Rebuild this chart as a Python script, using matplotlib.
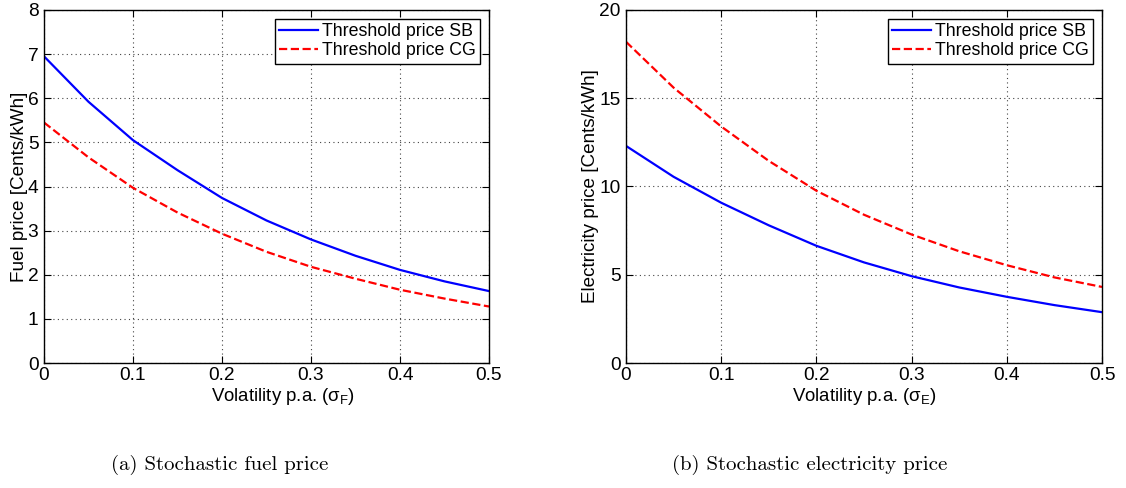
import matplotlib
matplotlib.use("Agg")
import matplotlib.pyplot as plt

plt.rcParams['font.family'] = ['Liberation Sans', 'DejaVu Sans']
plt.rcParams['mathtext.fontset'] = 'custom'
plt.rcParams['mathtext.rm'] = 'Liberation Sans'
plt.rcParams['mathtext.it'] = 'Liberation Sans'

# volatility grid
sigma = [0.0, 0.05, 0.1, 0.15, 0.2, 0.25, 0.3, 0.35, 0.4, 0.45, 0.5]

# (a) stochastic fuel price
fuel_sb = [6.95, 5.92, 5.05, 4.37, 3.74, 3.23, 2.80, 2.43, 2.11, 1.85, 1.63]
fuel_cg = [5.45, 4.66, 3.97, 3.41, 2.93, 2.52, 2.18, 1.91, 1.66, 1.46, 1.28]

# (b) stochastic electricity price
elec_sb = [12.3, 10.55, 9.08, 7.8, 6.64, 5.7, 4.92, 4.28, 3.75, 3.28, 2.88]
elec_cg = [18.2, 15.6, 13.4, 11.45, 9.76, 8.4, 7.28, 6.33, 5.54, 4.85, 4.31]

legend_labels = ['Threshold price SB', 'Threshold price CG']

fig = plt.figure(figsize=(11.26, 4.88), dpi=100)
ax1 = fig.add_axes([44 / 1126, 125 / 488, 445 / 1126, 353 / 488])
ax2 = fig.add_axes([626 / 1126, 125 / 488, 476 / 1126, 353 / 488])


def style(ax, ymax, ystep, ylabel, xlabel):
    ax.set_xlim(0, 0.5)
    ax.set_ylim(0, ymax)
    ax.set_xticks([0, 0.1, 0.2, 0.3, 0.4, 0.5])
    ax.set_xticklabels(['0', '0.1', '0.2', '0.3', '0.4', '0.5'])
    ax.set_yticks(range(0, ymax + 1, ystep))
    ax.tick_params(direction='in', top=True, right=True, labelsize=13.8,
                   length=5)
    ax.tick_params(axis='x', pad=3)
    ax.tick_params(axis='y', pad=4)
    ax.grid(True, linestyle=(0, (1, 3)), color='#444444', linewidth=0.8)
    for s in ax.spines.values():
        s.set_linewidth(1.0)
    ax.set_ylabel(ylabel, fontsize=13.6, labelpad=0)
    ax.set_xlabel(xlabel, fontsize=13.4, labelpad=1)
    leg = ax.legend(legend_labels, loc='upper right', fontsize=12.8,
                    fancybox=False, framealpha=1, borderaxespad=0.5,
                    handlelength=2.2, handletextpad=0.2, borderpad=0.25,
                    labelspacing=0.1)
    leg.get_frame().set_edgecolor('black')
    leg.get_frame().set_linewidth(1.0)


ax1.plot(sigma, fuel_sb, color='blue', linewidth=1.6)
ax1.plot(sigma, fuel_cg, color='red', linewidth=1.6, linestyle='--')
style(ax1, 8, 1, 'Fuel price [Cents/kWh]', r'Volatility p.a. ($\sigma_F$)')
ax1.xaxis.label.set_x(0.537)

ax2.plot(sigma, elec_sb, color='blue', linewidth=1.6)
ax2.plot(sigma, elec_cg, color='red', linewidth=1.6, linestyle='--')
style(ax2, 20, 5, 'Electricity price [Cents/kWh]', r'Volatility p.a. ($\sigma_E$)')

fig.text(220 / 1126, 1 - 465 / 488, '(a) Stochastic fuel price',
         family='cmr10', fontsize=15, ha='center', va='center')
fig.text(810 / 1126, 1 - 465 / 488, '(b) Stochastic electricity price',
         family='cmr10', fontsize=15, ha='center', va='center')

fig.savefig('out.png', dpi=100)
